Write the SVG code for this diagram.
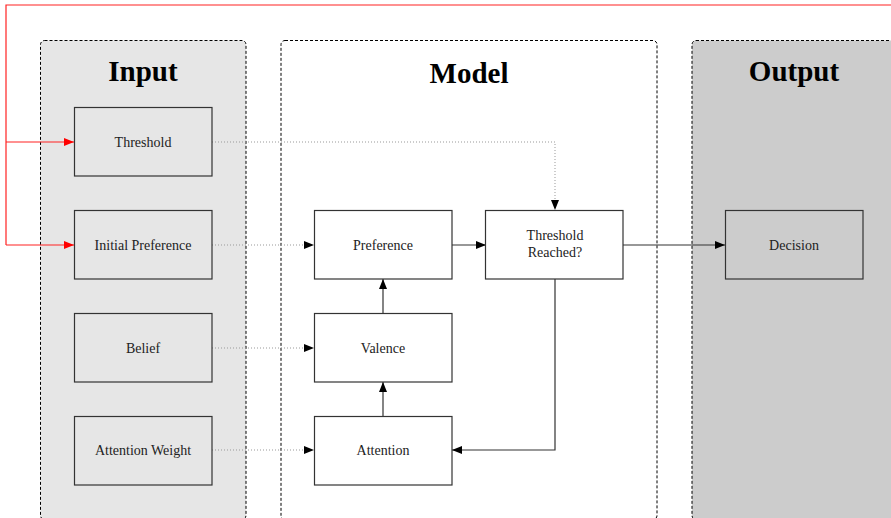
<svg xmlns="http://www.w3.org/2000/svg" width="891" height="518" viewBox="0 0 891 518">
<style>
.panel{stroke:#000;stroke-width:1;stroke-dasharray:3,2}
.title{font-family:"Liberation Serif","Times New Roman",serif;font-weight:bold;font-size:29px;text-anchor:middle;fill:#000}
.node rect{stroke:#333;stroke-width:1.2}
.node text{font-family:"Liberation Serif","Times New Roman",serif;font-size:14px;text-anchor:middle;fill:#222}
.solid{stroke:#333;stroke-width:1.2;fill:none}
.dot{stroke:#999;stroke-width:1;stroke-dasharray:1,2;fill:none}
.red{stroke:#f22;stroke-width:1.2;fill:none}
</style>
<defs>
<marker id="ah" viewBox="0 0 10 8" refX="10" refY="4" markerWidth="10" markerHeight="8" markerUnits="userSpaceOnUse" orient="auto"><path d="M0,0L10,4L0,8Z" fill="#000"/></marker>
<marker id="ahr" viewBox="0 0 10 8" refX="10" refY="4" markerWidth="10" markerHeight="8" markerUnits="userSpaceOnUse" orient="auto"><path d="M0,0L10,4L0,8Z" fill="#f00"/></marker>
</defs>
<rect width="891" height="518" fill="#fff"/>
<g id="panels">
<rect id="panel-input" class="panel" x="40.5" y="40.5" width="205.5" height="479" rx="4" fill="#e6e6e6"/>
<rect id="panel-model" class="panel" x="281" y="40.5" width="376" height="479" rx="4" fill="#fff"/>
<rect id="panel-output" class="panel" x="692" y="40.5" width="220" height="479" rx="4" fill="#ccc"/>
<text class="title" x="143" y="81">Input</text>
<text class="title" x="469" y="83">Model</text>
<text class="title" x="794" y="81">Output</text>
</g>
<g id="connectors">
<path class="red" d="M891,5H6V245"/>
<path class="red" d="M6,142H74" marker-end="url(#ahr)"/>
<path class="red" d="M6,245H74" marker-end="url(#ahr)"/>
<path class="dot" d="M212,142H555V210" marker-end="url(#ah)"/>
<path class="dot" d="M212,245H314" marker-end="url(#ah)"/>
<path class="dot" d="M212,348H314" marker-end="url(#ah)"/>
<path class="dot" d="M212,450H314" marker-end="url(#ah)"/>
<path class="solid" d="M452,245H486" marker-end="url(#ah)"/>
<path class="solid" d="M383,313V279" marker-end="url(#ah)"/>
<path class="solid" d="M383,416V382" marker-end="url(#ah)"/>
<path class="solid" d="M555,279V450H452" marker-end="url(#ah)"/>
<path class="solid" d="M623,245H725" marker-end="url(#ah)"/>
</g>
<g id="node-threshold" class="node"><rect x="74.5" y="107.5" width="137.5" height="68.5" fill="#e6e6e6"/><text x="143" y="147">Threshold</text></g>
<g id="node-initial-preference" class="node"><rect x="74.5" y="210.5" width="137.5" height="68.5" fill="#e6e6e6"/><text x="143" y="250">Initial Preference</text></g>
<g id="node-belief" class="node"><rect x="74.5" y="313.5" width="137.5" height="68.5" fill="#e6e6e6"/><text x="143" y="353">Belief</text></g>
<g id="node-attention-weight" class="node"><rect x="74.5" y="416.5" width="137.5" height="68.5" fill="#e6e6e6"/><text x="143" y="455">Attention Weight</text></g>
<g id="node-preference" class="node"><rect x="314.5" y="210.5" width="137.5" height="68.5" fill="#fff"/><text x="383" y="250">Preference</text></g>
<g id="node-valence" class="node"><rect x="314.5" y="313.5" width="137.5" height="68.5" fill="#fff"/><text x="383" y="353">Valence</text></g>
<g id="node-attention" class="node"><rect x="314.5" y="416.5" width="137.5" height="68.5" fill="#fff"/><text x="383" y="455">Attention</text></g>
<g id="node-threshold-reached" class="node"><rect x="485.5" y="210.5" width="137.5" height="68.5" fill="#fff"/><text x="555" y="240">Threshold</text><text x="555" y="257">Reached?</text></g>
<g id="node-decision" class="node"><rect x="725.5" y="210.5" width="137.5" height="68.5" fill="#ccc"/><text x="794" y="250">Decision</text></g>
</svg>
